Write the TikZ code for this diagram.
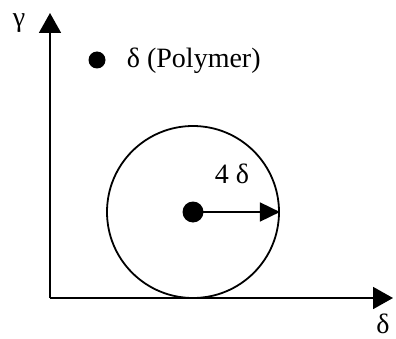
\documentclass[tikz,border=0pt]{standalone}
\usepackage{fontspec}
\setmainfont{Liberation Serif}
\usetikzlibrary{arrows.meta}

\begin{document}
\begin{tikzpicture}[x=1pt, y=1pt, line width=1.8pt,
    every node/.style={font=\fontsize{28}{30}\selectfont, inner sep=0pt},
    dotmark/.style={circle, fill=black, draw=none, inner sep=0pt}]
\useasboundingbox (0,0) rectangle (396,338);

% --- AXES ---
\coordinate (origin) at (50,40);
\coordinate (ytip) at (50,325);
\coordinate (xtip) at (393,40);
\draw[-{Triangle[length=20pt, width=22pt]}] (origin) -- (ytip);
\draw[-{Triangle[length=20pt, width=22pt]}] (origin) -- (xtip);
\node[anchor=base] (ylabel) at (19,311) {γ};
\node[anchor=base] (xlabel) at (383,5) {δ};

% --- LEGEND ---
\node[dotmark, minimum size=17pt] (legdot) at (97,278) {};
\node[anchor=base west] (legtext) at (126,270) {δ (Polymer)};

% --- CIRCLE WITH RADIUS ---
\node[circle, draw, minimum size=172pt] (ring) at (193,126) {};
\node[dotmark, minimum size=21pt] (centre) at (193,126) {};
\draw[-{Triangle[length=20pt, width=19pt]}] (centre.center) -- (ring.east);
\node[anchor=base] (radius) at (232,155) {4 δ};

\end{tikzpicture}
\end{document}
